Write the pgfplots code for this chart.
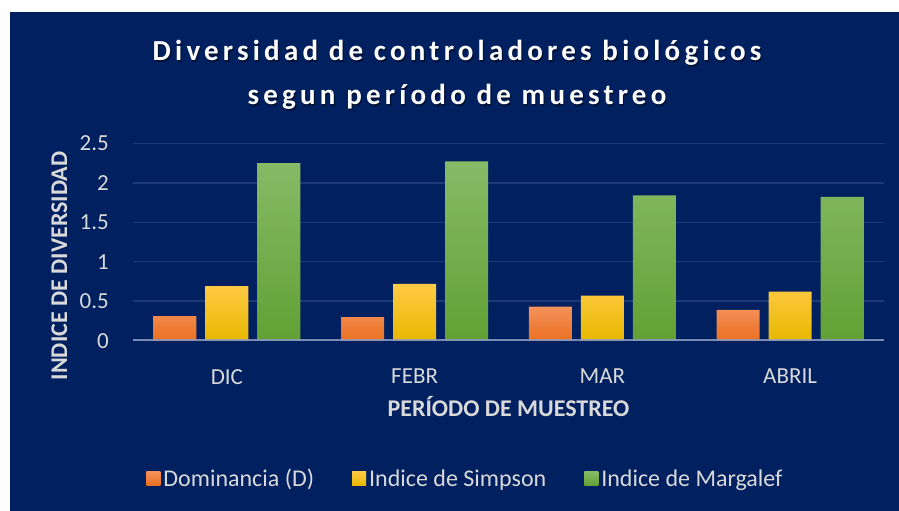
\documentclass[border=0pt]{standalone}
\usepackage{fontspec}
\setmainfont{Carlito}
\usepackage{pgfplots}
\pgfplotsset{compat=1.18}

\definecolor{navy}{RGB}{0,32,96}
\definecolor{gridc}{RGB}{30,58,118}
\definecolor{basec}{RGB}{140,155,195}
\definecolor{txt}{RGB}{217,217,217}
\definecolor{orT}{RGB}{243,145,90}
\definecolor{orB}{RGB}{235,112,32}
\definecolor{yeT}{RGB}{255,202,70}
\definecolor{yeM}{RGB}{255,192,0}
\definecolor{yeB}{RGB}{232,184,0}
\definecolor{grT}{RGB}{134,187,102}
\definecolor{grM}{RGB}{112,173,71}
\definecolor{grB}{RGB}{98,160,52}

\begin{document}
\begin{tikzpicture}
\useasboundingbox (0,0) rectangle (899pt,511pt);
\fill[white] (0,0) rectangle (899pt,511pt);
\fill[navy] (10pt,0) rectangle (899pt,499pt);

% title (with a soft shadow)
\newfontfamily\titlefont[LetterSpace=14.5]{Carlito}
\foreach \dx/\dy/\col/\op in {1.2pt/-1.5pt/black/0.45, 0pt/0pt/white/1} {
  \node[anchor=base, text=\col, opacity=\op, inner sep=0pt,
        font=\titlefont\bfseries\fontsize{29}{34}\selectfont]
    at ([xshift=\dx, yshift=\dy]457pt,450pt) {Diversidad de controladores biológicos};
  \node[anchor=base, text=\col, opacity=\op, inner sep=0pt,
        font=\titlefont\bfseries\fontsize{29}{34}\selectfont]
    at ([xshift=\dx, yshift=\dy]457pt,406pt) {segun período de muestreo};
}

% y axis title
\node[rotate=90, anchor=base, inner sep=0pt, text=txt,
      font=\bfseries\fontsize{24}{28}\selectfont]
  at (67pt,245pt) {INDICE DE DIVERSIDAD};

\begin{axis}[
  at={(133pt,170.3pt)}, anchor=south west,
  scale only axis, width=751pt, height=197.4pt,
  ybar=9pt, bar width=43pt,
  xmin=-0.5, xmax=3.5, ymin=0, ymax=2.5,
  xtick={0,1,2,3}, xticklabels={DIC,FEBR,MAR,ABRIL},
  ytick={0,0.5,1,1.5,2,2.5}, yticklabels={0,0.5,1,1.5,2,2.5},
  axis line style={draw=none}, tick style={draw=none},
  ymajorgrids, grid style={line width=1.5pt, gridc},
  font=\fontsize{23}{27}\selectfont,
  yticklabel style={anchor=east, inner sep=0pt, xshift=-24pt, text=txt},
  xticklabel style={anchor=north, inner sep=0pt, yshift=-24pt, text=txt},
  xlabel={PERÍODO DE MUESTREO},
  xlabel style={at={(axis description cs:0.5,-0.3815)}, anchor=base,
                inner sep=0pt, font=\bfseries\fontsize{24}{28}\selectfont, text=txt},
  legend columns=3,
  legend style={at={(axis description cs:0.4434,-0.699)}, anchor=center,
                draw=none, fill=none, text=txt,
                font=\fontsize{24}{28}\selectfont,
                nodes={inner sep=3pt},
                /tikz/every even column/.append style={column sep=35pt}},
  legend image code/.code={\fill[#1] (0pt,-7pt) rectangle (14pt,7pt);},
]
\addplot[draw=none, top color=orT, bottom color=orB]
  coordinates {(0,0.31) (1,0.30) (2,0.43) (3,0.39)};
\addplot[draw=none, top color=yeT, middle color=yeM, bottom color=yeB]
  coordinates {(0,0.69) (1,0.72) (2,0.57) (3,0.62)};
\addplot[draw=none, top color=grT, middle color=grM, bottom color=grB]
  coordinates {(0,2.25) (1,2.27) (2,1.84) (3,1.82)};
\legend{Dominancia (D), Indice de Simpson, Indice de Margalef}
\draw[basec, line width=2.5pt, opacity=0.85] (axis cs:-0.5,0) -- (axis cs:3.5,0);
\end{axis}
\end{tikzpicture}
\end{document}
